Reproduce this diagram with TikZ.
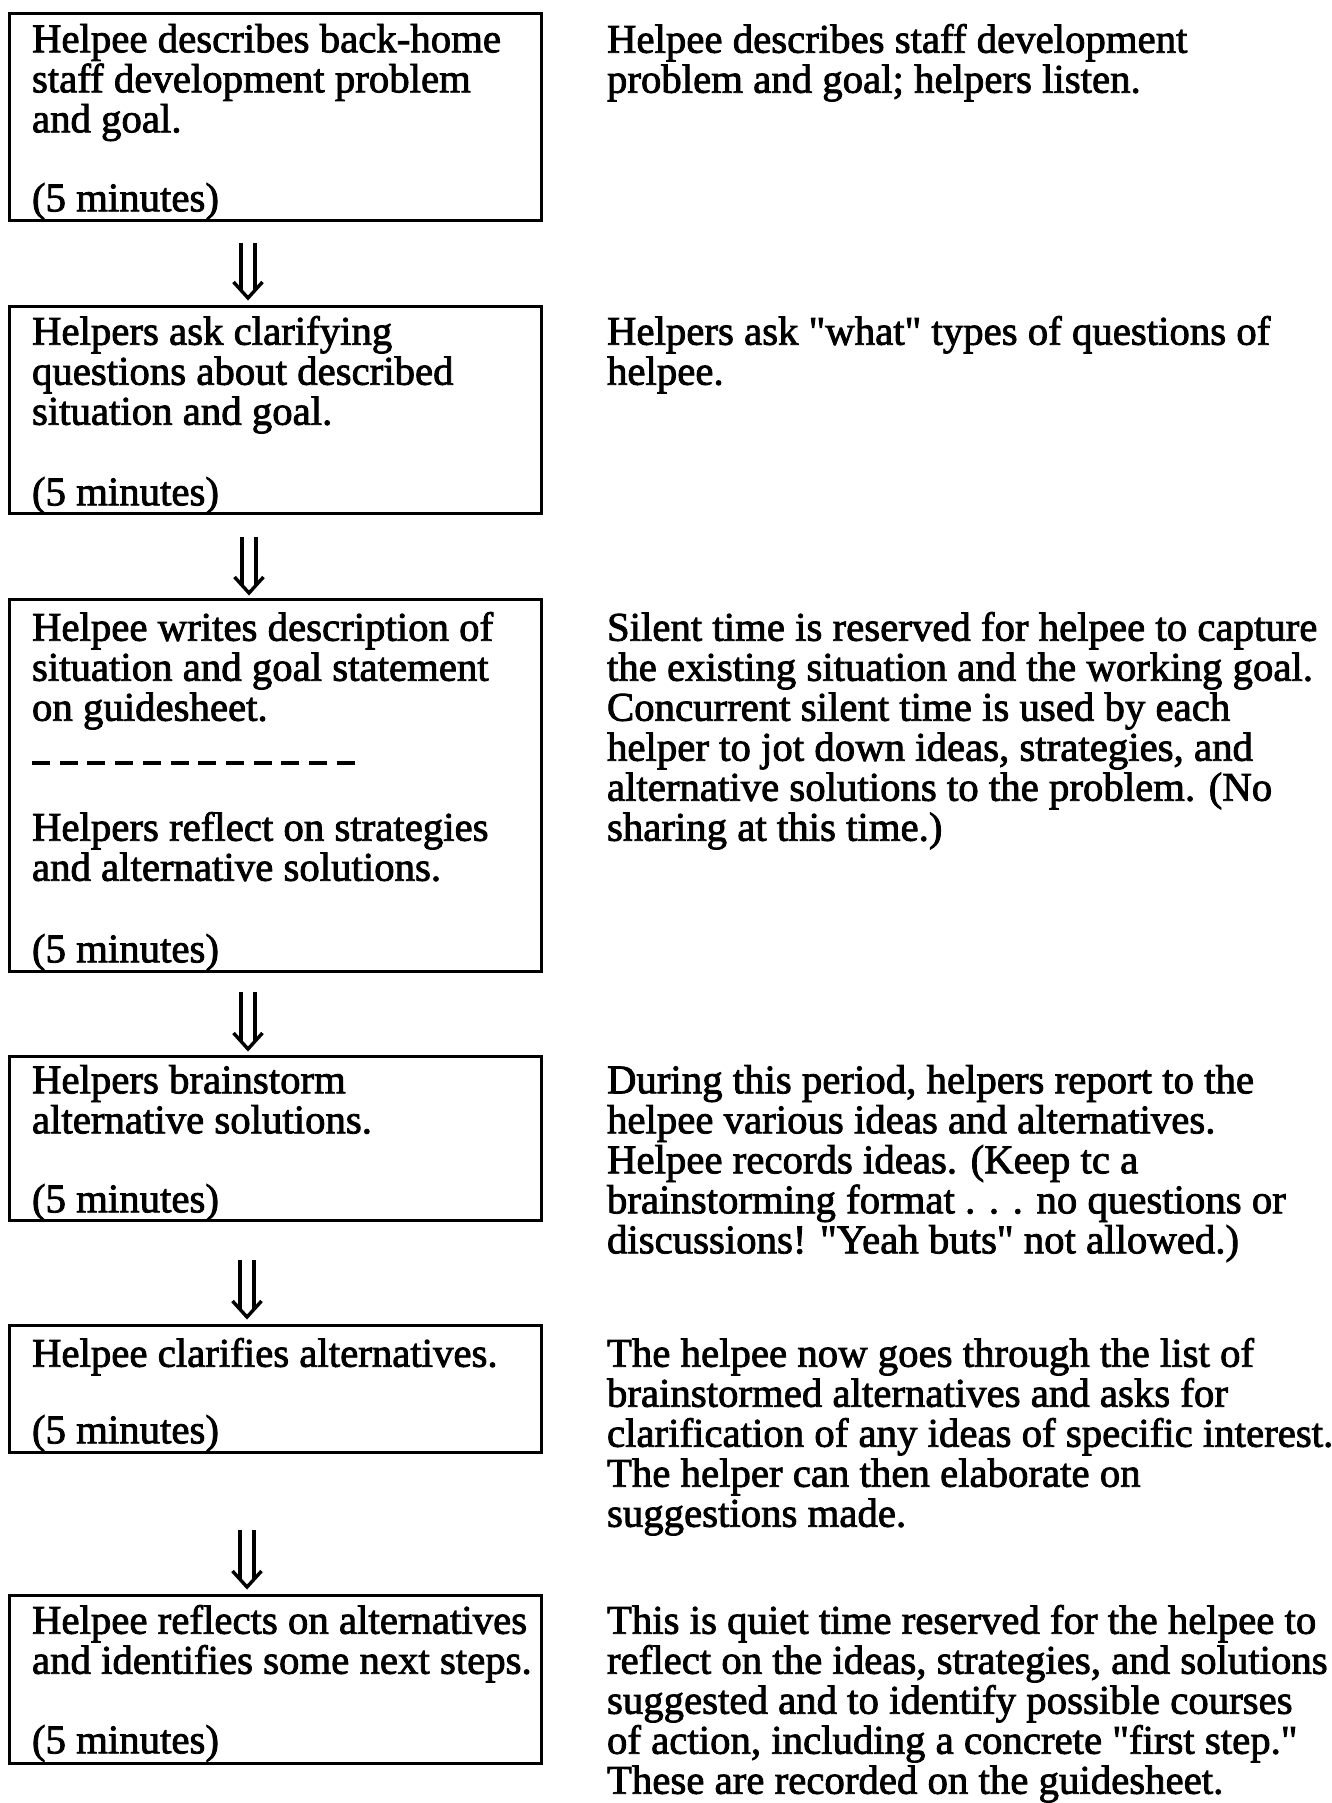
\documentclass[tikz,border=0pt]{standalone}
\usepackage{fontspec}
\setmainfont{Liberation Serif}[BoldFont={Liberation Serif}, BoldFeatures={FakeBold=2}]
\newcommand\bodyfnt{\fontsize{20.4}{20}\selectfont\bfseries\lineskiplimit=-20pt\relax}
\newcommand\qq{\textquotedbl}
\newcommand\dnarrow[2]{%
  \draw[arrowline] ([xshift=-3.5pt]#1) -- ([xshift=-3.5pt,yshift=3.9pt]#2);
  \draw[arrowline] ([xshift=3.5pt]#1) -- ([xshift=3.5pt,yshift=3.9pt]#2);
  \draw[arrowline] ([xshift=-7.25pt,yshift=8pt]#2) -- (#2) -- ([xshift=7.25pt,yshift=8pt]#2);
}
\begin{document}
\begin{tikzpicture}[x=0.5pt,y=-0.5pt,
  box/.style={draw, line width=1.5pt, inner sep=0pt, outer sep=0pt, minimum width=266pt},
  txt/.style={anchor=north west, inner sep=0pt, outer sep=0pt, align=left, font=\bodyfnt},
  arrowline/.style={line width=1.7pt, line cap=butt, line join=miter},
  sep/.style={line width=1.6pt, dash pattern=on 9pt off 4.85pt}]
\useasboundingbox[fill=white] (0,0) rectangle (1332,1803);

% boxes
\node[box, minimum height=103.5pt] (b1) at (275,117.5) {};
\node[box, minimum height=103.5pt] (b2) at (275,409.5) {};
\node[box, minimum height=186pt] (b3) at (275,785) {};
\node[box, minimum height=82pt] (b4) at (275,1138) {};
\node[box, minimum height=63.5pt] (b5) at (275,1388.5) {};
\node[box, minimum height=84pt] (b6) at (275,1679) {};

% left texts
\node[txt] (t1) at (32,24) {\strut Helpee describes back-home\\staff development problem\\and goal.};
\node[txt] (t1m) at (32,183) {\strut (5 minutes)};
\node[txt] (t2) at (32,316) {\strut Helpers ask clarifying\\questions about described\\situation and goal.};
\node[txt] (t2m) at (32,477) {\strut (5 minutes)};
\node[txt] (t3a) at (32,612) {\strut Helpee writes description of\\situation and goal statement\\on guidesheet.};
\coordinate (d1) at (32,763);
\coordinate (d2) at (355,763);
\draw[sep] (d1) -- (d2);
\node[txt] (t3b) at (32,812) {\strut Helpers reflect on strategies\\and alternative solutions.};
\node[txt] (t3m) at (32,934) {\strut (5 minutes)};
\node[txt] (t4) at (32,1065) {\strut Helpers brainstorm\\alternative solutions.};
\node[txt] (t4m) at (32,1184) {\strut (5 minutes)};
\node[txt] (t5) at (32,1338) {\strut Helpee clarifies alternatives.};
\node[txt] (t5m) at (32,1415) {\strut (5 minutes)};
\node[txt] (t6) at (32,1605) {\strut Helpee reflects on alternatives\\and identifies some next steps.};
\node[txt] (t6m) at (32,1725) {\strut (5 minutes)};

% right texts
\node[txt] (r1) at (607,24) {\strut Helpee describes staff development\\problem and goal; helpers listen.};
\node[txt] (r2) at (607,316) {\strut Helpers ask \qq what\qq{} types of questions of\\helpee.};
\node[txt] (r3) at (607,612) {\strut Silent time is reserved for helpee to capture\\the existing situation and the working goal.\\Concurrent silent time is used by each\\helper to jot down ideas, strategies, and\\alternative solutions to the problem. (No\\sharing at this time.)};
\node[txt] (r4) at (607,1065) {\strut During this period, helpers report to the\\helpee various ideas and alternatives.\\Helpee records ideas. (Keep tc a\\brainstorming format . . . no questions or\\discussions! \qq Yeah buts\qq{} not allowed.)};
\node[txt] (r5) at (607,1338) {\strut The helpee now goes through the list of\\brainstormed alternatives and asks for\\clarification of any ideas of specific interest.\\The helper can then elaborate on\\suggestions made.};
\node[txt] (r6) at (607,1605) {\strut This is quiet time reserved for the helpee to\\reflect on the ideas, strategies, and solutions\\suggested and to identify possible courses\\of action, including a concrete \qq first step.\qq\\These are recorded on the guidesheet.};

% arrows
\coordinate (a1s) at (248,243);  \coordinate (a1e) at (248,298);
\coordinate (a2s) at (249,537);  \coordinate (a2e) at (249,593);
\coordinate (a3s) at (248,992);  \coordinate (a3e) at (248,1049);
\coordinate (a4s) at (247,1260); \coordinate (a4e) at (247,1317);
\coordinate (a5s) at (247,1530); \coordinate (a5e) at (247,1587);
\dnarrow{a1s}{a1e}
\dnarrow{a2s}{a2e}
\dnarrow{a3s}{a3e}
\dnarrow{a4s}{a4e}
\dnarrow{a5s}{a5e}
\end{tikzpicture}
\end{document}
